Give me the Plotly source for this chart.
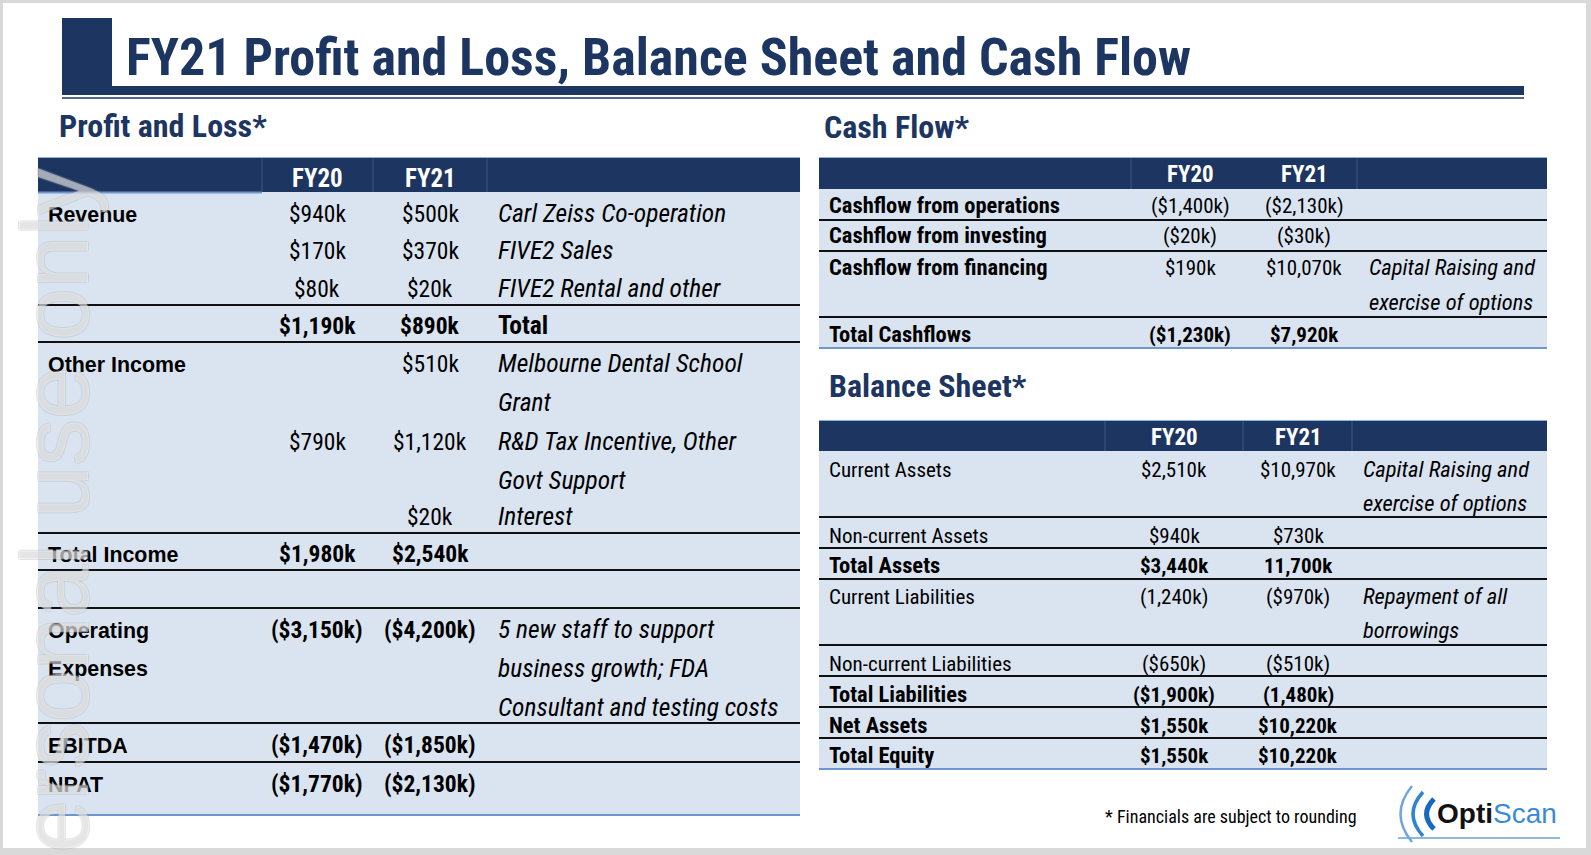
import plotly.graph_objects as go

# ---------------- data ----------------
title_text = "FY21 Profit and Loss, Balance Sheet and Cash Flow"
section_titles = ["Profit and Loss*", "Cash Flow*", "Balance Sheet*"]
year_labels = ["FY20", "FY21"]

pl_labels = ["Revenue", "", "", "", "Other Income", "", "", "Total Income", "",
             "Operating\nExpenses", "EBITDA", "NPAT"]
pl_fy20 = ["$940k", "$170k", "$80k", "$1,190k", "", "$790k", "", "$1,980k", "",
           "($3,150k)", "($1,470k)", "($1,770k)"]
pl_fy21 = ["$500k", "$370k", "$20k", "$890k", "$510k", "$1,120k", "$20k", "$2,540k", "",
           "($4,200k)", "($1,850k)", "($2,130k)"]
pl_notes = ["Carl Zeiss Co-operation", "FIVE2 Sales", "FIVE2 Rental and other", "Total",
            "Melbourne Dental School\nGrant", "R&D Tax Incentive, Other\nGovt Support",
            "Interest", "", "",
            "5 new staff to support\nbusiness growth; FDA\nConsultant and testing costs", "", ""]
pl_bold = [0, 0, 0, 1, 0, 0, 0, 1, 0, 1, 1, 1]
pl_note_italic = [1, 1, 1, 0, 1, 1, 1, 0, 0, 1, 0, 0]

cf_labels = ["Cashflow from operations", "Cashflow from investing",
             "Cashflow from financing", "Total Cashflows"]
cf_fy20 = ["($1,400k)", "($20k)", "$190k", "($1,230k)"]
cf_fy21 = ["($2,130k)", "($30k)", "$10,070k", "$7,920k"]
cf_notes = ["", "", "Capital Raising and\nexercise of options", ""]
cf_bold = [0, 0, 0, 1]

bs_labels = ["Current Assets", "Non-current Assets", "Total Assets", "Current Liabilities",
             "Non-current Liabilities", "Total Liabilities", "Net Assets", "Total Equity"]
bs_fy20 = ["$2,510k", "$940k", "$3,440k", "(1,240k)", "($650k)", "($1,900k)", "$1,550k", "$1,550k"]
bs_fy21 = ["$10,970k", "$730k", "11,700k", "($970k)", "($510k)", "(1,480k)", "$10,220k", "$10,220k"]
bs_notes = ["Capital Raising and\nexercise of options", "", "", "Repayment of all\nborrowings",
            "", "", "", ""]
bs_bold = [0, 0, 1, 0, 0, 1, 1, 1]

footnote = "* Financials are subject to rounding"
watermark = "For personal use only"
logo_parts = ["Opti", "Scan"]

# ---------------- layout / styles ----------------
W, H = 1591, 855
NAVY = "#1d3561"
BODY = "#dae4f0"
NARROW = "Roboto Condensed, DejaVu Sans Condensed, sans-serif"
WIDE = "Liberation Sans, Arial, sans-serif"

shapes = []
annots = []


def rect(x0, y0, x1, y1, color, line=None):
    shapes.append(dict(type="rect", xref="x", yref="y", x0=x0, y0=y0, x1=x1, y1=y1,
                       fillcolor=color, line=dict(width=0) if line is None else line,
                       layer="below"))


def hline(x0, x1, y, color="#111111", width=2):
    shapes.append(dict(type="line", xref="x", yref="y", x0=x0, x1=x1, y0=y, y1=y,
                       line=dict(color=color, width=width), layer="below"))


def vline(x, y0, y1, color="#3d5688", width=1):
    shapes.append(dict(type="line", xref="x", yref="y", x0=x, x1=x, y0=y0, y1=y1,
                       line=dict(color=color, width=width), layer="below"))


def txt(x, base, s, size, anchor="left", bold=False, italic=False, color="#000000",
        family=NARROW, step=None):
    lines = s.split("\n")
    step = step if step else size * 1.55
    for i, ln in enumerate(lines):
        if not ln:
            continue
        annots.append(dict(x=x, y=base + i * step - 0.35 * size, xref="x", yref="y",
                           text=ln, showarrow=False, xanchor=anchor, yanchor="middle",
                           borderpad=0,
                           font=dict(family=family, size=size, color=color,
                                     weight="bold" if bold else "normal",
                                     style="italic" if italic else "normal")))


# slide background
rect(3, 3, 1586, 848, "#ffffff")

# title block
rect(62, 18, 112, 95, NAVY)
rect(62, 86, 1524, 95, NAVY)
hline(62, 1524, 98, NAVY, 1.5)
txt(125, 76, title_text, 52, bold=True, color=NAVY)

# section titles
txt(58, 137, section_titles[0], 32, bold=True, color=NAVY)
txt(823, 138, section_titles[1], 32, bold=True, color=NAVY)
txt(828, 397, section_titles[2], 32, bold=True, color=NAVY)

# ---------- Profit and Loss table ----------
PL_X0, PL_X1 = 38, 800
rect(PL_X0, 192, PL_X1, 815, BODY)
rect(PL_X0, 157, PL_X1, 192, NAVY)
hline(PL_X0, PL_X1, 157.5, "#8fb0dd", 1)
hline(PL_X0, 262, 192.5, "#6f96cf", 2)
for xs in (262, 373, 487):
    vline(xs, 158, 192)
hline(PL_X0, PL_X1, 815, "#6f96cf", 2)
for y in (305, 342, 533, 570, 608, 723, 762):
    hline(PL_X0, PL_X1, y)

PL_XL, PL_X20, PL_X21, PL_XN = 47, 317, 430, 497
txt(PL_X20, 187, year_labels[0], 25, anchor="center", bold=True, color="white")
txt(PL_X21, 187, year_labels[1], 25, anchor="center", bold=True, color="white")
pl_base = [222, 259, 297, 334, 372, 450, 525, 562, 589, 638, 753, 792]
for i in range(len(pl_labels)):
    b = pl_base[i]
    txt(PL_XL, b, pl_labels[i], 21.4, bold=True, family=WIDE, step=38)
    txt(PL_X20, b, pl_fy20[i], 23.5, anchor="center", bold=bool(pl_bold[i]))
    txt(PL_X21, b, pl_fy21[i], 23.5, anchor="center", bold=bool(pl_bold[i]))
    txt(PL_XN, b, pl_notes[i], 25.5, italic=bool(pl_note_italic[i]),
        bold=not pl_note_italic[i], step=39)

# ---------- Cash flow table ----------
T_X0, T_X1 = 819, 1547
rect(T_X0, 189, T_X1, 348, BODY)
rect(T_X0, 157, T_X1, 189, NAVY)
hline(T_X0, T_X1, 157.5, "#8fb0dd", 1)
for xs in (1131, 1357):
    vline(xs, 158, 189)
hline(T_X0, T_X1, 348, "#6f96cf", 2)
for y in (220, 251, 317):
    hline(T_X0, T_X1, y)
CF_XL, CF_X20, CF_X21, CF_XN = 828, 1190, 1304, 1368
txt(CF_X20, 183, year_labels[0], 23, anchor="center", bold=True, color="white")
txt(CF_X21, 183, year_labels[1], 23, anchor="center", bold=True, color="white")
cf_base = [213, 243, 275, 342]
for i in range(len(cf_labels)):
    b = cf_base[i]
    txt(CF_XL, b, cf_labels[i], 22.5, bold=True)
    txt(CF_X20, b, cf_fy20[i], 21, anchor="center", bold=bool(cf_bold[i]))
    txt(CF_X21, b, cf_fy21[i], 21, anchor="center", bold=bool(cf_bold[i]))
    txt(CF_XN, b, cf_notes[i], 22.5, italic=True, step=35)

# ---------- Balance sheet table ----------
rect(T_X0, 451, T_X1, 769, BODY)
rect(T_X0, 420, T_X1, 451, NAVY)
hline(T_X0, T_X1, 420.5, "#8fb0dd", 1)
for xs in (1105, 1243, 1352):
    vline(xs, 421, 451)
hline(T_X0, T_X1, 769, "#6f96cf", 2)
for y in (517, 548, 579, 645, 676, 707, 738):
    hline(T_X0, T_X1, y)
BS_XL, BS_X20, BS_X21, BS_XN = 828, 1174, 1298, 1362
txt(BS_X20, 446, year_labels[0], 23, anchor="center", bold=True, color="white")
txt(BS_X21, 446, year_labels[1], 23, anchor="center", bold=True, color="white")
bs_base = [477, 543, 573, 604, 671, 702, 733, 763]
for i in range(len(bs_labels)):
    b = bs_base[i]
    bb = bool(bs_bold[i])
    txt(BS_XL, b, bs_labels[i], 22.5 if bb else 21, bold=bb)
    txt(BS_X20, b, bs_fy20[i], 21, anchor="center", bold=bb)
    txt(BS_X21, b, bs_fy21[i], 21, anchor="center", bold=bb)
    txt(BS_XN, b, bs_notes[i], 22.5, italic=True, step=34)

# footnote
txt(1104, 823, footnote, 18)

# logo
for path, col, w in (("M 1434 799 Q 1419 814 1434 829", "#1769bd", 5),
                     ("M 1423 792 Q 1403 814 1423 836", "#2f85d2", 3.5),
                     ("M 1412 786 Q 1389 814 1412 842", "#6fa7de", 2.5)):
    shapes.append(dict(type="path", xref="x", yref="y", path=path,
                       line=dict(color=col, width=w), layer="above"))
hline(1398, 1560, 838, "#6a9fd6", 1.5)
annots.append(dict(x=1436, y=823 - 0.35 * 28, xref="x", yref="y", showarrow=False,
                   xanchor="left", yanchor="middle", borderpad=0,
                   text="<b>%s</b><span style='color:#3c8ad4'>%s</span>" % tuple(logo_parts),
                   font=dict(family=WIDE, size=28, color="#111111")))

# watermark
annots.append(dict(x=55, y=620, xref="x", yref="y", showarrow=False, textangle=-90,
                   xanchor="center", yanchor="middle", text=watermark,
                   font=dict(family=WIDE, size=94, color="rgba(255,255,255,0.45)",
                             shadow="-1px -1px 0 rgba(160,160,160,0.35), 1px -1px 0 rgba(160,160,160,0.35), "
                                    "-1px 1px 0 rgba(160,160,160,0.35), 1px 1px 0 rgba(160,160,160,0.35)")))

fig = go.Figure()
fig.add_trace(go.Scatter(x=[0, W], y=[0, H], mode="markers", marker=dict(opacity=0),
                         hoverinfo="skip", showlegend=False))
fig.update_layout(
    width=W, height=H, autosize=False,
    margin=dict(l=0, r=0, t=0, b=0),
    paper_bgcolor="#d9d9d9", plot_bgcolor="rgba(0,0,0,0)",
    xaxis=dict(range=[0, W], visible=False, fixedrange=True),
    yaxis=dict(range=[H, 0], visible=False, fixedrange=True),
    shapes=shapes, annotations=annots, showlegend=False,
)
fig.write_html("out.html", config={"displayModeBar": False},
               post_script="document.body.style.margin='0';")
